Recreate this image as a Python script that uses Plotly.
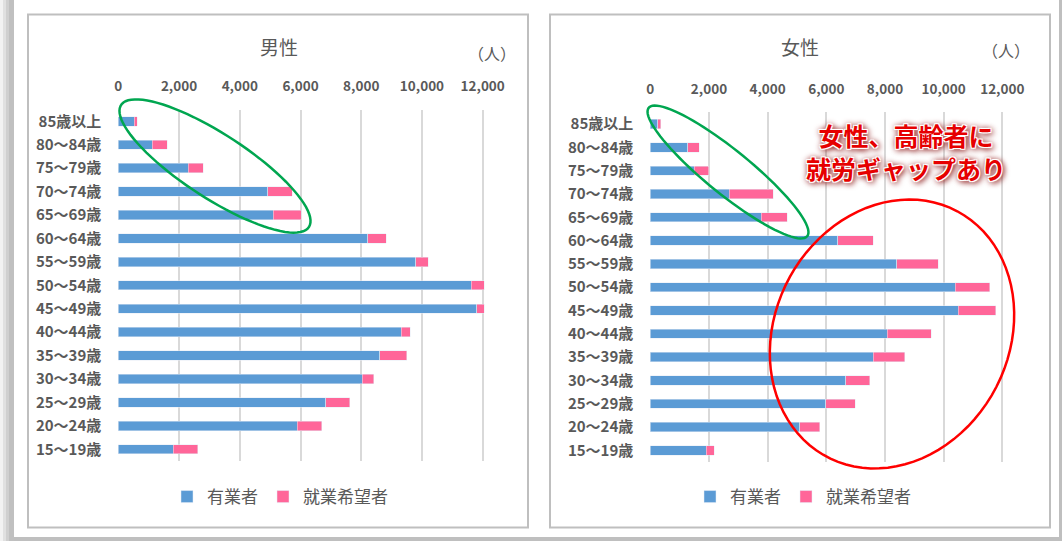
import numpy as np
import plotly.graph_objects as go

W, H = 1062, 541

age_groups = [
    "15～19歳", "20～24歳", "25～29歳", "30～34歳", "35～39歳",
    "40～44歳", "45～49歳", "50～54歳", "55～59歳", "60～64歳",
    "65～69歳", "70～74歳", "75～79歳", "80～84歳", "85歳以上",
]
male_employed = [1810, 5900, 6830, 8030, 8610, 9315, 11810, 11620, 9800, 8220, 5110, 4920, 2300, 1110, 530]
male_seeking = [800, 800, 790, 385, 890, 305, 240, 430, 400, 610, 920, 800, 500, 500, 90]
female_employed = [1900, 5095, 5980, 6670, 7600, 8080, 10500, 10390, 8410, 6390, 3785, 2695, 1490, 1285, 260]
female_seeking = [285, 680, 1010, 810, 1080, 1500, 1275, 1190, 1400, 1215, 885, 1500, 510, 385, 95]
x_ticks = [0, 2000, 4000, 6000, 8000, 10000, 12000]

BLUE = "#5B9BD5"
PINK = "#FF6699"
TEXT = "#595959"
GRID = "#D9D9D9"
BORDER = "#BFBFBF"
FONT = "Noto Sans CJK JP"


def px(x):
    return x / W


def py(y):
    return 1 - y / H


def ellipse_path(cx, cy, a, b, angle_deg, n=90):
    # rotated ellipse in pixel coords -> paper path
    t = np.linspace(0, 2 * np.pi, n)
    ang = np.radians(angle_deg)
    xs = cx + a * np.cos(t) * np.cos(ang) - b * np.sin(t) * np.sin(ang)
    ys = cy + a * np.cos(t) * np.sin(ang) + b * np.sin(t) * np.cos(ang)
    pts = [f"{px(x):.5f},{py(y):.5f}" for x, y in zip(xs, ys)]
    return "M" + " L".join(pts) + " Z"


fig = go.Figure()

# --- bars ---
fig.add_trace(go.Bar(y=age_groups, x=male_employed, orientation="h", name="有業者",
                     marker_color=BLUE, width=0.4, xaxis="x", yaxis="y", legend="legend"))
fig.add_trace(go.Bar(y=age_groups, x=male_seeking, orientation="h", name="就業希望者",
                     marker_color=PINK, width=0.4, xaxis="x", yaxis="y", legend="legend"))
fig.add_trace(go.Bar(y=age_groups, x=female_employed, orientation="h", name="有業者",
                     marker_color=BLUE, width=0.4, xaxis="x2", yaxis="y2", legend="legend2"))
fig.add_trace(go.Bar(y=age_groups, x=female_seeking, orientation="h", name="就業希望者",
                     marker_color=PINK, width=0.4, xaxis="x2", yaxis="y2", legend="legend2"))

# --- axes ---
m_x0, m_x12 = 118.3, 482.7
f_x0, f_x12 = 650.3, 1002.3
x_max = 12100

xcommon = dict(
    range=[0, x_max], side="top", tickvals=x_ticks, tickformat=",d",
    showgrid=True, gridcolor=GRID, gridwidth=1.5, zeroline=False, showline=False,
    ticks="outside", ticklen=12, tickcolor="rgba(0,0,0,0)", automargin=False,
    tickfont=dict(family=FONT, size=13.5, color=TEXT, weight="bold"), fixedrange=True,
)
ycommon = dict(
    type="category", range=[-0.5, 14.5], showgrid=False, zeroline=False, showline=False,
    ticks="outside", ticklen=13, tickcolor="rgba(0,0,0,0)", automargin=False,
    tickfont=dict(family=FONT, size=15, color=TEXT, weight="bold"), fixedrange=True,
)

fig.update_layout(
    xaxis=dict(domain=[px(m_x0), px(m_x0 + (m_x12 - m_x0) * x_max / 12000)], anchor="y", **xcommon),
    yaxis=dict(domain=[py(461), py(109.6)], anchor="x", **ycommon),
    xaxis2=dict(domain=[px(f_x0), px(f_x0 + (f_x12 - f_x0) * x_max / 12000)], anchor="y2", **xcommon),
    yaxis2=dict(domain=[py(462), py(112.4)], anchor="x2", **ycommon),
)

# --- frame & panel borders ---
shapes = []
for x0, x1, c in [(0, 3, "#F2F2F2"), (3, 6, "#E0E0E0"), (6, 9, "#CFCFCF"), (9, 14, "#C0C0C0")]:
    shapes.append(dict(type="rect", xref="paper", yref="paper", x0=px(x0), x1=px(x1), y0=0, y1=1,
                       fillcolor=c, line_width=0, layer="below"))
shapes.append(dict(type="rect", xref="paper", yref="paper", x0=px(14), x1=1, y0=0, y1=py(537),
                   fillcolor=BORDER, line_width=0, layer="below"))
shapes.append(dict(type="rect", xref="paper", yref="paper", x0=px(1059), x1=1, y0=0, y1=1,
                   fillcolor=BORDER, line_width=0, layer="below"))
for x0, x1 in [(28, 528), (550, 1050)]:
    shapes.append(dict(type="rect", xref="paper", yref="paper", x0=px(x0), x1=px(x1),
                       y0=py(527.5), y1=py(14.5), line=dict(color=BORDER, width=2), layer="below"))

# --- highlight ellipses ---
shapes.append(dict(type="path", xref="paper", yref="paper",
                   path=ellipse_path(215, 166, 112, 32, 33), line=dict(color="#00A650", width=2.5)))
shapes.append(dict(type="path", xref="paper", yref="paper",
                   path=ellipse_path(728, 172, 102, 22, 39), line=dict(color="#00A650", width=2.5)))
shapes.append(dict(type="path", xref="paper", yref="paper",
                   path=ellipse_path(892, 334, 139, 117, -62), line=dict(color="#FF0000", width=2.5)))
fig.update_layout(shapes=shapes)

# --- titles & notes ---
ann = [
    dict(text="男性", x=px(279), y=py(47), size=19),
    dict(text="（人）", x=px(492), y=py(53), size=16),
    dict(text="女性", x=px(800), y=py(47), size=19),
    dict(text="（人）", x=px(1006), y=py(50), size=16),
]
for a in ann:
    fig.add_annotation(text=a["text"], x=a["x"], y=a["y"], xref="paper", yref="paper",
                       showarrow=False, xanchor="center", yanchor="middle",
                       font=dict(family=FONT, size=a["size"], color=TEXT))

fig.add_annotation(
    text="女性、高齢者に<br>就労ギャップあり", x=px(906), y=py(151), xref="paper", yref="paper",
    showarrow=False, xanchor="center", yanchor="middle", align="center",
    font=dict(family=FONT, size=25, color="#E60000", weight="bold",
              shadow="1px 1px 0 #fff, -1px -1px 0 #fff, 1px -1px 0 #fff, -1px 1px 0 #fff, "
                     "0 0 3px #fff, 0 0 6px #8A0000, 2px 2px 6px #7A0000"),
)

legend_common = dict(
    orientation="h", xanchor="center", yanchor="middle", traceorder="normal",
    bgcolor="rgba(0,0,0,0)", itemwidth=30,
    font=dict(family=FONT, size=17, color=TEXT),
)
fig.update_layout(
    legend=dict(x=px(280), y=py(497), **legend_common),
    legend2=dict(x=px(803), y=py(497), **legend_common),
)

fig.update_layout(
    width=W, height=H,
    autosize=False,
    margin=dict(l=0, r=0, t=0, b=0, autoexpand=False),
    barmode="stack",
    paper_bgcolor="white",
    plot_bgcolor="rgba(0,0,0,0)",
    font=dict(family=FONT, color=TEXT),
    showlegend=True,
)

# drop the page margin so the chart sits at the window's top-left corner
fig.write_html(
    "out.html",
    config={"responsive": False, "displayModeBar": False},
    post_script="document.body.style.margin='0';document.body.style.overflow='hidden';",
)
